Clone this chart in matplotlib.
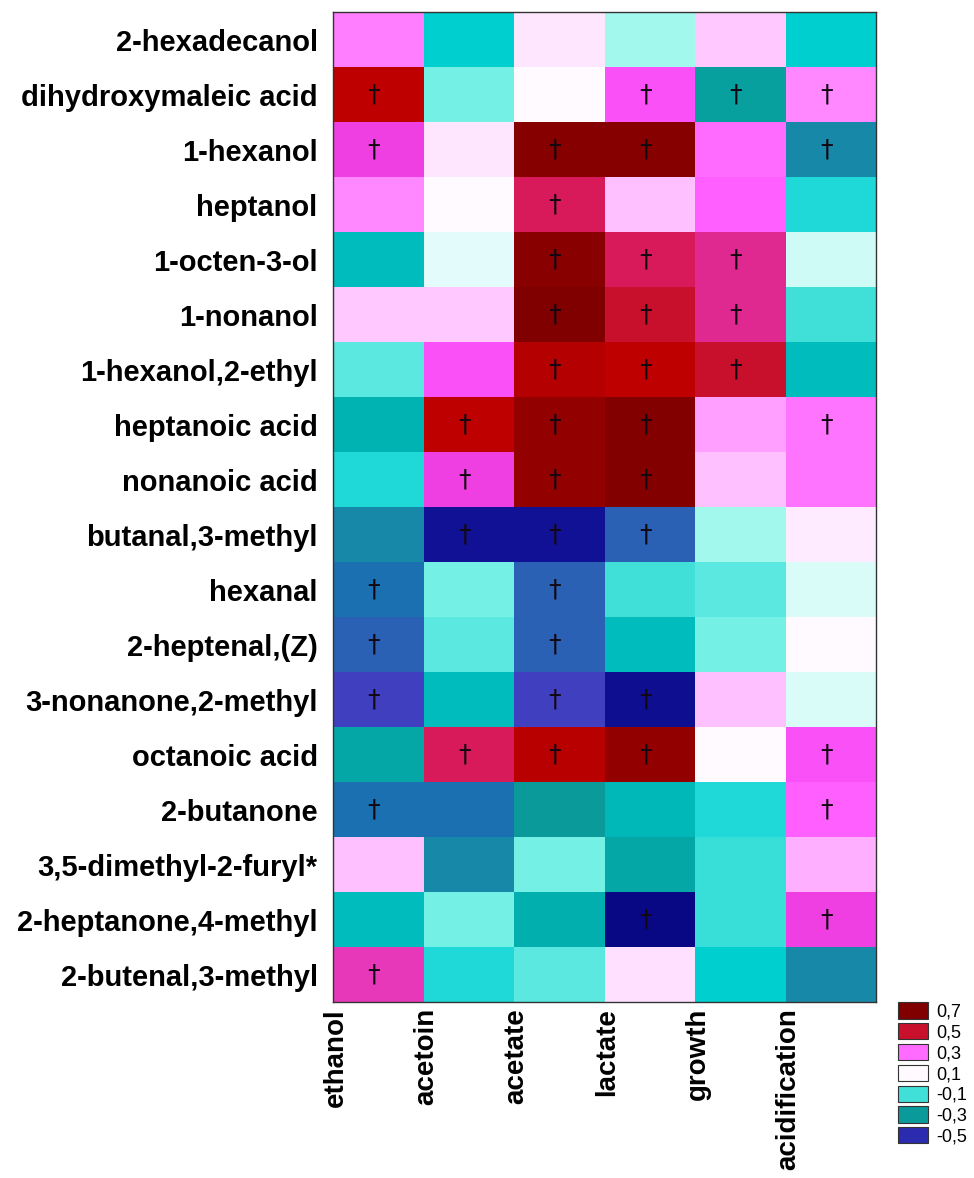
import numpy as np
import matplotlib
matplotlib.use('Agg')
import matplotlib.pyplot as plt
from matplotlib.colors import LinearSegmentedColormap, Normalize
from matplotlib.patches import Patch

# Volatile compounds (rows) and fermentation traits (columns)
compounds = [
    '2-hexadecanol', 'dihydroxymaleic acid', '1-hexanol', 'heptanol',
    '1-octen-3-ol', '1-nonanol', '1-hexanol,2-ethyl', 'heptanoic acid',
    'nonanoic acid', 'butanal,3-methyl', 'hexanal', '2-heptenal,(Z)',
    '3-nonanone,2-methyl', 'octanoic acid', '2-butanone',
    '3,5-dimethyl-2-furyl*', '2-heptanone,4-methyl', '2-butenal,3-methyl',
]
traits = ['ethanol', 'acetoin', 'acetate', 'lactate', 'growth', 'acidification']

# Correlation coefficients, one list per compound (same order as traits)
r_hexadecanol = [0.28, -0.18, 0.14, -0.01, 0.19, -0.18]
r_dihydroxymaleic = [0.56, -0.045, 0.10, 0.33, -0.29, 0.27]
r_hexanol = [0.36, 0.14, 0.68, 0.68, 0.30, -0.345]
r_heptanol = [0.27, 0.10, 0.46, 0.20, 0.31, -0.14]
r_octenol = [-0.22, 0.06, 0.67, 0.46, 0.42, 0.03]
r_nonanol = [0.19, 0.19, 0.70, 0.50, 0.42, -0.10]
r_ethylhexanol = [-0.07, 0.33, 0.58, 0.56, 0.50, -0.22]
r_heptanoic = [-0.24, 0.56, 0.65, 0.69, 0.24, 0.29]
r_nonanoic = [-0.14, 0.36, 0.65, 0.69, 0.20, 0.29]
r_methylbutanal = [-0.345, -0.56, -0.56, -0.41, -0.01, 0.13]
r_hexanal = [-0.38, -0.045, -0.41, -0.10, -0.07, 0.04]
r_heptenal = [-0.41, -0.07, -0.41, -0.22, -0.045, 0.10]
r_nonanone = [-0.46, -0.22, -0.46, -0.57, 0.20, 0.04]
r_octanoic = [-0.27, 0.46, 0.57, 0.65, 0.10, 0.33]
r_butanone = [-0.38, -0.38, -0.30, -0.23, -0.14, 0.31]
r_furyl = [0.20, -0.345, -0.045, -0.27, -0.11, 0.22]
r_heptanone = [-0.22, -0.045, -0.25, -0.60, -0.11, 0.36]
r_butenal = [0.39, -0.14, -0.07, 0.15, -0.18, -0.345]

# Significant correlations (marked with a dagger)
sig_hexadecanol = [0, 0, 0, 0, 0, 0]
sig_dihydroxymaleic = [1, 0, 0, 1, 1, 1]
sig_hexanol = [1, 0, 1, 1, 0, 1]
sig_heptanol = [0, 0, 1, 0, 0, 0]
sig_octenol = [0, 0, 1, 1, 1, 0]
sig_nonanol = [0, 0, 1, 1, 1, 0]
sig_ethylhexanol = [0, 0, 1, 1, 1, 0]
sig_heptanoic = [0, 1, 1, 1, 0, 1]
sig_nonanoic = [0, 1, 1, 1, 0, 0]
sig_methylbutanal = [0, 1, 1, 1, 0, 0]
sig_hexanal = [1, 0, 1, 0, 0, 0]
sig_heptenal = [1, 0, 1, 0, 0, 0]
sig_nonanone = [1, 0, 1, 1, 0, 0]
sig_octanoic = [0, 1, 1, 1, 0, 1]
sig_butanone = [1, 0, 0, 0, 0, 1]
sig_furyl = [0, 0, 0, 0, 0, 0]
sig_heptanone = [0, 0, 0, 1, 0, 1]
sig_butenal = [1, 0, 0, 0, 0, 0]

legend_values = [0.7, 0.5, 0.3, 0.1, -0.1, -0.3, -0.5]
legend_labels = ['0,7', '0,5', '0,3', '0,1', '-0,1', '-0,3', '-0,5']

corr = np.array([
    r_hexadecanol, r_dihydroxymaleic, r_hexanol, r_heptanol, r_octenol,
    r_nonanol, r_ethylhexanol, r_heptanoic, r_nonanoic, r_methylbutanal,
    r_hexanal, r_heptenal, r_nonanone, r_octanoic, r_butanone, r_furyl,
    r_heptanone, r_butenal,
])
sig = np.array([
    sig_hexadecanol, sig_dihydroxymaleic, sig_hexanol, sig_heptanol,
    sig_octenol, sig_nonanol, sig_ethylhexanol, sig_heptanoic, sig_nonanoic,
    sig_methylbutanal, sig_hexanal, sig_heptenal, sig_nonanone, sig_octanoic,
    sig_butanone, sig_furyl, sig_heptanone, sig_butenal,
])

# blue - teal - white - pink - red colour scale
vmin, vmax = -0.6, 0.7
stops = [
    (-0.60, '#080884'), (-0.55, '#14149c'), (-0.46, '#4040c0'),
    (-0.41, '#2a62b4'), (-0.38, '#1a70b0'), (-0.345, '#1888a8'),
    (-0.30, '#0a9a9a'), (-0.25, '#00b0b0'), (-0.21, '#00c2c2'),
    (-0.18, '#00d0d0'), (-0.14, '#20d8d8'), (-0.10, '#40e0d8'),
    (-0.07, '#5ae8e0'), (-0.045, '#74f0e4'), (-0.01, '#a0f8ec'),
    (0.04, '#d8fcf8'), (0.10, '#fffaff'), (0.14, '#ffe6ff'),
    (0.19, '#ffc8ff'), (0.24, '#ffa0ff'), (0.28, '#ff80ff'),
    (0.32, '#ff58ff'), (0.36, '#f040e8'), (0.39, '#e838b8'),
    (0.42, '#e02890'), (0.46, '#d81a5a'), (0.50, '#c8102e'),
    (0.56, '#c00000'), (0.62, '#a00000'), (0.67, '#8b0000'),
    (0.70, '#800000'),
]
cmap = LinearSegmentedColormap.from_list(
    'corr', [((v - vmin) / (vmax - vmin), c) for v, c in stops])
norm = Normalize(vmin=vmin, vmax=vmax)

plt.rcParams['font.family'] = 'Liberation Sans'

fig = plt.figure(figsize=(9.74, 11.78), dpi=100)
ax = fig.add_axes([0.3419, 0.1494, 0.5575, 0.8404])

n_rows, n_cols = corr.shape
ax.pcolormesh(np.arange(n_cols + 1), np.arange(n_rows + 1), corr,
              cmap=cmap, norm=norm)
ax.set_xlim(0, n_cols)
ax.set_ylim(n_rows, 0)

# daggers for significant cells
for i in range(n_rows):
    for j in range(n_cols):
        if sig[i, j]:
            ax.text(j + 0.45, i + 0.5, '\u2020', ha='center', va='center',
                    fontsize=18, color='#120812', family='DejaVu Sans')

ax.set_yticks(np.arange(n_rows) + 0.5)
ax.set_yticklabels(compounds, fontsize=21, fontweight='bold')
ax.set_xticks([])
ax.tick_params(axis='y', length=0, pad=11)

# trait names hang below the left edge of each column
for j, name in enumerate(traits):
    ax.text(j + 0.03, -0.006, name, rotation=90, ha='center', va='top',
            fontsize=20, fontweight='bold',
            transform=ax.get_xaxis_transform())

for spine in ax.spines.values():
    spine.set_color('#333333')
    spine.set_linewidth(1.0)

handles = [Patch(facecolor=cmap(norm(v)), edgecolor='#333333', linewidth=0.8)
           for v in legend_values]
fig.legend(handles, legend_labels, loc='upper left',
           bbox_to_anchor=(0.922, 0.149), frameon=False,
           handlelength=1.65, handleheight=1.0, labelspacing=0.14,
           handletextpad=0.45, borderpad=0, borderaxespad=0,
           prop={'family': ['Liberation Sans Narrow', 'Liberation Sans'],
                 'size': 13})

fig.savefig('out.png', dpi=100)
